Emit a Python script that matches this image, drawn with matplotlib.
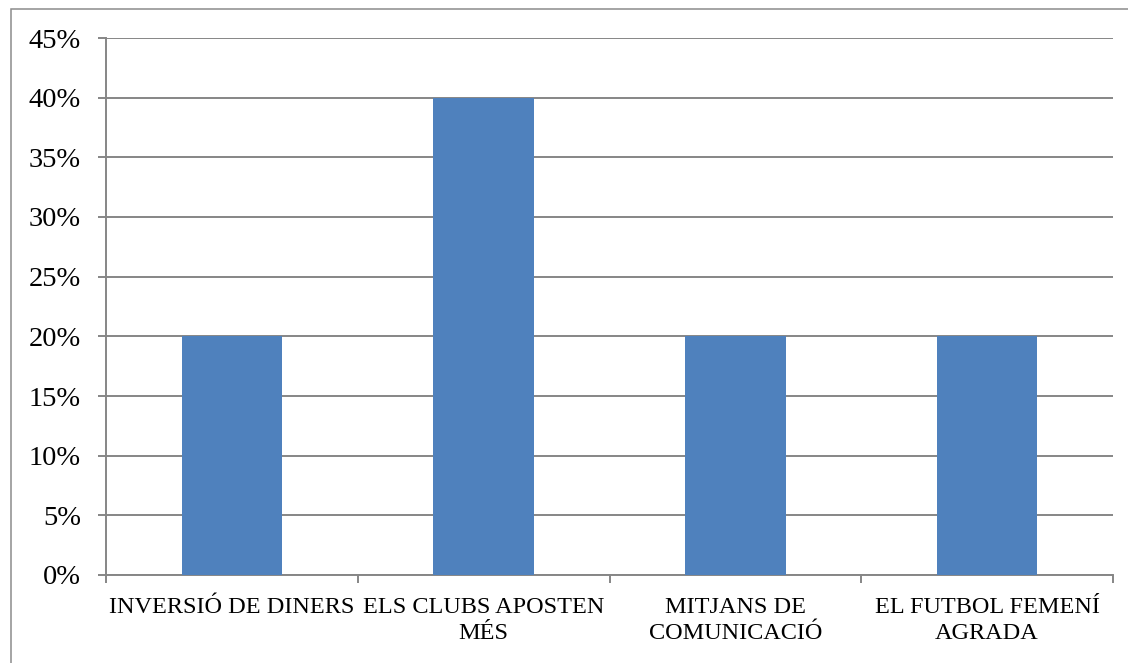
import matplotlib.pyplot as plt
from matplotlib.patches import Rectangle
from matplotlib.ticker import MultipleLocator, PercentFormatter

categories = ["INVERSIÓ DE DINERS", "ELS CLUBS APOSTEN\nMÉS",
              "MITJANS DE\nCOMUNICACIÓ", "EL FUTBOL FEMENÍ\nAGRADA"]
values = [20, 40, 20, 20]

BAR_COLOR = "#4f81bd"
GRID_COLOR = "#868686"
W, H = 1128, 663

plt.rcParams["font.family"] = ["Liberation Serif", "DejaVu Serif"]

fig = plt.figure(figsize=(W / 100, H / 100), dpi=100)
ax = fig.add_axes([106 / W, 1 - 575 / H, (1113 - 106) / W, (575 - 38) / H])

# outer frame (only left and top edges are visible in the crop)
fig.patches.append(Rectangle((11 / W, -0.05), 1.1, 1 - 9 / H + 0.05,
                             transform=fig.transFigure, fill=False,
                             edgecolor="#8c8c8c", linewidth=1.1))

x = range(len(categories))
ax.bar(x, values, width=0.4, color=BAR_COLOR, zorder=3)

ax.set_xlim(-0.5, len(categories) - 0.5)
ax.set_ylim(0, 45)
ax.yaxis.set_major_locator(MultipleLocator(5))
ax.yaxis.set_major_formatter(PercentFormatter(decimals=0))
ax.grid(axis="y", color=GRID_COLOR, linewidth=1.4, zorder=0)

ax.set_xticks([i - 0.5 for i in range(len(categories) + 1)], minor=False)
ax.set_xticklabels([])
ax.set_xticks(list(x), minor=True)
ax.set_xticklabels(categories, minor=True, fontsize=17.5, linespacing=1.3)
ax.tick_params(axis="x", which="minor", length=0, pad=16)
ax.tick_params(axis="x", which="major", length=6, width=1.4, color=GRID_COLOR,
               direction="out")
ax.tick_params(axis="y", length=6, width=1.4, color=GRID_COLOR, pad=12,
               labelsize=20.5, direction="out")

for side in ("top", "right"):
    ax.spines[side].set_visible(False)
for side in ("left", "bottom"):
    ax.spines[side].set_color(GRID_COLOR)
    ax.spines[side].set_linewidth(1.4)

fig.savefig("out.png", dpi=100)
